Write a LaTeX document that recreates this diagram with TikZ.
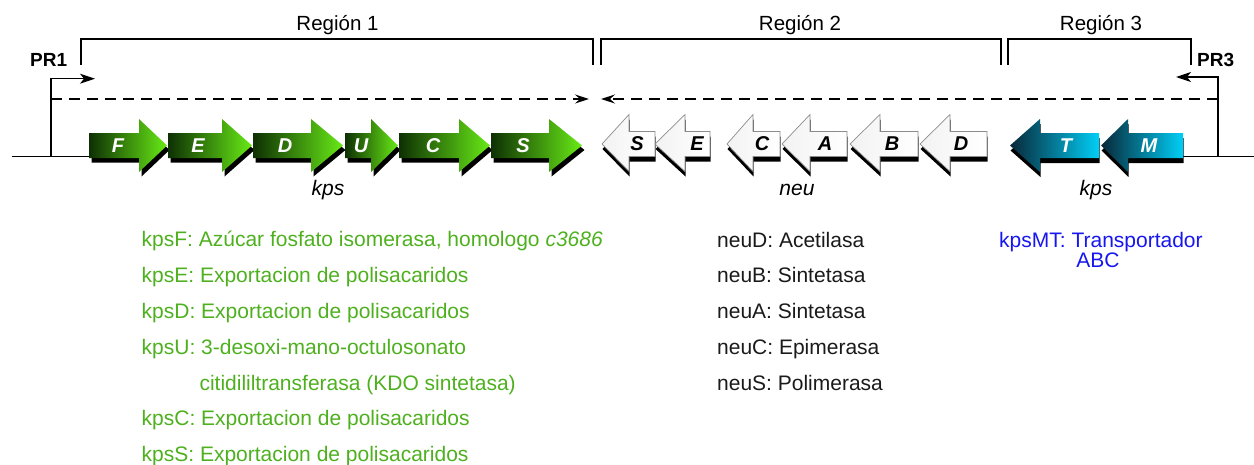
\documentclass[tikz,border=0pt]{standalone}
\usepackage{fontspec}
\setmainfont{Liberation Sans}
\usetikzlibrary{arrows.meta}

\definecolor{kpsgreen}{RGB}{78,176,30}
\definecolor{gdark}{RGB}{14,48,4}
\definecolor{glight}{RGB}{104,234,22}
\definecolor{tdark}{RGB}{8,40,56}
\definecolor{tlight}{RGB}{0,206,246}
\definecolor{abcblue}{RGB}{22,22,238}
\definecolor{edgegray}{RGB}{140,140,140}
\definecolor{inkblack}{RGB}{26,26,26}

\tikzset{
  geneletter/.style={font=\fontsize{20}{24}\selectfont\bfseries\itshape, inner sep=0pt},
  reglabel/.style={font=\fontsize{20.5}{24}\selectfont, inner sep=0pt, anchor=base},
  prlabel/.style={font=\fontsize{19}{23}\selectfont\bfseries, inner sep=0pt, anchor=base west},
  locus/.style={font=\fontsize{21}{25}\selectfont\itshape, inner sep=0pt, anchor=base},
  greenitem/.style={font=\fontsize{21}{25}\selectfont, text=kpsgreen, inner sep=0pt, anchor=base west},
  blackitem/.style={font=\fontsize{21}{25}\selectfont, text=inkblack, inner sep=0pt, anchor=base west},
  blueitem/.style={font=\fontsize{21}{25}\selectfont, text=abcblue, inner sep=0pt},
  wire/.style={line width=1.3pt, black},
  bracket/.style={line width=1.3pt, black},
  promoter/.style={line width=1.3pt, black, -{Stealth[length=15pt,width=10pt,inset=4pt]}},
  transcript/.style={line width=1.3pt, black, dash pattern=on 11pt off 7pt, -{Stealth[length=14pt,width=9pt,inset=5pt]}},
  greenfill/.style={left color=gdark, right color=glight},
  tealfill/.style={left color=tdark, right color=tlight},
  whitefill/.style={left color=gray!10, right color=white, draw=edgegray, line width=0.7pt},
}

% head extent of the gene arrows (top and bottom)
\newcommand{\htop}{119}
\newcommand{\hbot}{172}

% gene pointing right: name, body start, head start, tip, letter, letter x
\newcommand{\geneR}[6]{%
  \fill[black, shift={(2.5,4.5)}] (#2,133) -- (#3,133) -- (#3,\htop) -- (#4,145.5) -- (#3,\hbot) -- (#3,158) -- (#2,158) -- cycle;
  \path[greenfill] (#2,133) -- (#3,133) -- (#3,\htop) -- (#4,145.5) -- (#3,\hbot) -- (#3,158) -- (#2,158) -- cycle;
  \node[geneletter, text=white] (#1) at (#6,145.5) {#5};
}

% gene pointing left: name, tip, head end, body end, letter, letter x, fill style, letter colour
\newcommand{\geneL}[8]{%
  \fill[black, shift={(0.5,5)}] (#2,145.5) -- (#3,\htop) -- (#3,133) -- (#4,133) -- (#4,158) -- (#3,158) -- (#3,\hbot) -- cycle;
  \path[#7] (#2,145.5) -- (#3,\htop) -- (#3,133) -- (#4,133) -- (#4,158) -- (#3,158) -- (#3,\hbot) -- cycle;
  \node[geneletter, text=#8] (#1) at (#6,145.5) {#5};
}

\begin{document}
\begin{tikzpicture}[x=1pt, y=-1pt]
\useasboundingbox (0,0) rectangle (1254,464);

% chromosome line and promoter positions
\coordinate (lineL) at (11.7,156.7);
\coordinate (lineR) at (1254,156.7);
\coordinate (pr1) at (51,156.7);
\coordinate (pr1tip) at (95,78.7);
\coordinate (pr3) at (1218,156.7);
\coordinate (pr3tip) at (1176,77);
\coordinate (dash1end) at (589,99);
\coordinate (dash2end) at (601,99);
\coordinate (dash1start) at (51,99);
\coordinate (dash2start) at (1218,99);

\draw[wire] (lineL) -- (100,156.7);
\draw[wire] (1170,156.7) -- (lineR);

% promoters and transcripts
\draw[promoter] (pr1) |- (pr1tip);
\draw[promoter] (pr3) |- (pr3tip);
\draw[transcript] (dash1start) -- (dash1end);
\draw[transcript] (dash2start) -- (dash2end);

\node[prlabel] (PRone) at (30,66.7) {PR1};
\node[prlabel] (PRthree) at (1197,66.7) {PR3};

% region brackets
\coordinate (r1a) at (81,65);   \coordinate (r1b) at (593,65);
\coordinate (r2a) at (601,65);  \coordinate (r2b) at (1001,65);
\coordinate (r3a) at (1008,65); \coordinate (r3b) at (1191,65);
\draw[bracket] (r1a) -- ++(0,-26) -| (r1b);
\draw[bracket] (r2a) -- ++(0,-26) -| (r2b);
\draw[bracket] (r3a) -- ++(0,-26) -| (r3b);
\node[reglabel] (reg1) at (337.5,30) {Región 1};
\node[reglabel] (reg2) at (800,30) {Región 2};
\node[reglabel] (reg3) at (1101,30) {Región 3};

% kps region 1 genes
\geneR{kF}{89}{139}{167}{F}{118}
\geneR{kE}{168}{222}{252}{E}{198}
\geneR{kD}{253}{311}{343}{D}{285}
\geneR{kU}{345}{371}{398}{U}{361}
\geneR{kC}{399}{459}{490}{C}{433}
\geneR{kS}{491}{549}{582}{S}{523}

% neu genes
\begin{scope}[shift={(0,-1.5)}]
\renewcommand{\htop}{116}
\renewcommand{\hbot}{173}
\geneL{nS}{602}{629}{655}{S}{637}{whitefill}{black}
\geneL{nE}{655}{685}{710}{E}{697}{whitefill}{black}
\geneL{nC}{727}{753}{780}{C}{762}{whitefill}{black}
\geneL{nA}{782}{810}{847}{A}{825}{whitefill}{black}
\geneL{nB}{850}{880}{918}{B}{892}{whitefill}{black}
\geneL{nD}{920}{950}{987}{D}{961}{whitefill}{black}
\end{scope}

% kps region 3 genes
\geneL{kT}{1010}{1040}{1099}{T}{1066}{tealfill}{white}
\geneL{kM}{1101}{1128}{1183}{M}{1149}{tealfill}{white}

% locus names
\node[locus] (loc1) at (328,195) {kps};
\node[locus] (loc2) at (797,195) {neu};
\node[locus] (loc3) at (1096,195) {kps};

% region 1 gene functions
\node[greenitem] (fF) at (141.5,246.5) {kpsF: Azúcar fosfato isomerasa, homologo \textit{c3686}};
\node[greenitem] (fE) at (141.5,282.3) {kpsE: Exportacion de polisacaridos};
\node[greenitem] (fD) at (141.5,318) {kpsD: Exportacion de polisacaridos};
\node[greenitem] (fU) at (141.5,354) {kpsU: 3-desoxi-mano-octulosonato};
\node[greenitem] (fU2) at (199.3,390) {citidililtransferasa (KDO sintetasa)};
\node[greenitem] (fC) at (141.5,425.5) {kpsC: Exportacion de polisacaridos};
\node[greenitem] (fS) at (141.5,461) {kpsS: Exportacion de polisacaridos};

% region 2 gene functions
\node[blackitem] (gD) at (717,247) {neuD: Acetilasa};
\node[blackitem] (gB) at (717,282.5) {neuB: Sintetasa};
\node[blackitem] (gA) at (717,318) {neuA: Sintetasa};
\node[blackitem] (gC) at (717,354) {neuC: Epimerasa};
\node[blackitem] (gS) at (717,390) {neuS: Polimerasa};

% region 3 gene functions
\node[blueitem, anchor=base west] (hMT) at (999,247) {kpsMT: Transportador};
\node[blueitem, anchor=base] (hABC) at (1098,267) {ABC};

\end{tikzpicture}
\end{document}
